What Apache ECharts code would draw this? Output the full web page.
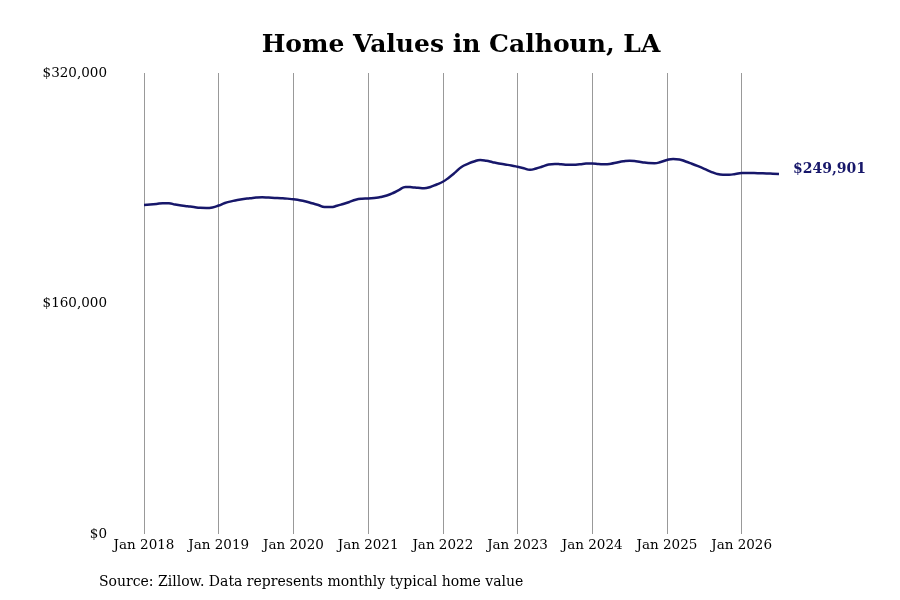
<!DOCTYPE html>
<html>
<head>
<meta charset="utf-8">
<script src="https://cdn.jsdelivr.net/npm/echarts@6/dist/echarts.min.js"></script>
<style>
  html, body { margin: 0; padding: 0; background: #fff; }
  #chart { width: 900px; height: 600px; }
</style>
</head>
<body>
<div id="chart"></div>
<script>
var monthNames = ['Jan','Feb','Mar','Apr','May','Jun','Jul','Aug','Sep','Oct','Nov','Dec'];
var startYear = 2018;

// monthly typical home value, Jan 2018 - Jul 2026
var values = [
  228400, 228700, 229100, 229600, 229600, 228700, 228000, 227500, 227000, 226400, 226300, 226700,
  228000, 229800, 230900, 231900, 232600, 233000, 233500, 233700, 233500, 233300, 233100, 232800,
  232300, 231700, 230800, 229600, 228400, 227000, 226900, 227800, 229100, 230500, 232000, 232700,
  232900, 233300, 233900, 235000, 236700, 238900, 240900, 240700, 240300, 240000, 240900, 242600,
  244500, 247500, 251000, 254800, 256900, 258600, 259600, 259100, 258100, 257200, 256500, 255800,
  254900, 253900, 252800, 253700, 255100, 256500, 256900, 256600, 256300, 256300, 256600, 257100,
  257200, 256900, 256600, 257000, 257900, 258700, 259100, 258800, 258100, 257500, 257400, 258200,
  259600, 260300, 260000, 258600, 257000, 255300, 253500, 251600, 250000, 249400, 249400, 249900,
  250500, 250500, 250500, 250400, 250300, 250100, 249901
];

var yTicks = [0, 160000, 320000];

var months = [];
for (var i = 0; i < values.length; i++) {
  var y = startYear + Math.floor(i / 12);
  months.push(monthNames[i % 12] + ' ' + y);
}

function money(v) {
  return '$' + v.toString().replace(/\B(?=(\d{3})+(?!\d))/g, ',');
}

var isJan = function (idx) { return idx % 12 === 0; };

var chart = echarts.init(document.getElementById('chart'));
chart.setOption({
  animation: false,
  textStyle: { fontFamily: 'DejaVu Serif' },
  title: {
    text: 'Home Values in Calhoun, LA',
    left: 456,
    top: 28,
    textAlign: 'center',
    textStyle: { fontFamily: 'DejaVu Serif', fontWeight: 'bold', fontSize: 25, color: '#000' }
  },
  grid: { left: 144, right: 121, top: 73, bottom: 66, containLabel: false },
  xAxis: {
    type: 'category',
    data: months,
    boundaryGap: false,
    axisLine: { show: false },
    axisTick: { show: false },
    axisLabel: {
      interval: isJan,
      margin: 4,
      fontSize: 13.5,
      color: '#000',
      fontFamily: 'DejaVu Serif'
    },
    splitLine: {
      show: true,
      interval: isJan,
      lineStyle: { color: '#999', width: 1 }
    }
  },
  yAxis: {
    type: 'value',
    min: yTicks[0],
    max: yTicks[yTicks.length - 1],
    interval: yTicks[1] - yTicks[0],
    axisLine: { show: false },
    axisTick: { show: false },
    splitLine: { show: false },
    axisLabel: {
      margin: 37,
      fontSize: 13.5,
      color: '#000',
      fontFamily: 'DejaVu Serif',
      formatter: money
    }
  },
  series: [{
    type: 'line',
    data: values,
    smooth: true,
    symbol: 'none',
    lineStyle: { color: '#17176a', width: 2.5 },
    endLabel: {
      show: true,
      distance: 14,
      offset: [0, -5],
      formatter: function (p) { return money(p.value); },
      color: '#17176a',
      fontWeight: 'bold',
      fontSize: 14,
      fontFamily: 'DejaVu Serif'
    }
  }],
  graphic: [{
    type: 'text',
    left: 99,
    top: 575,
    style: {
      text: 'Source: Zillow. Data represents monthly typical home value',
      font: '14px "DejaVu Serif"',
      fill: '#000'
    }
  }]
});
</script>
</body>
</html>
